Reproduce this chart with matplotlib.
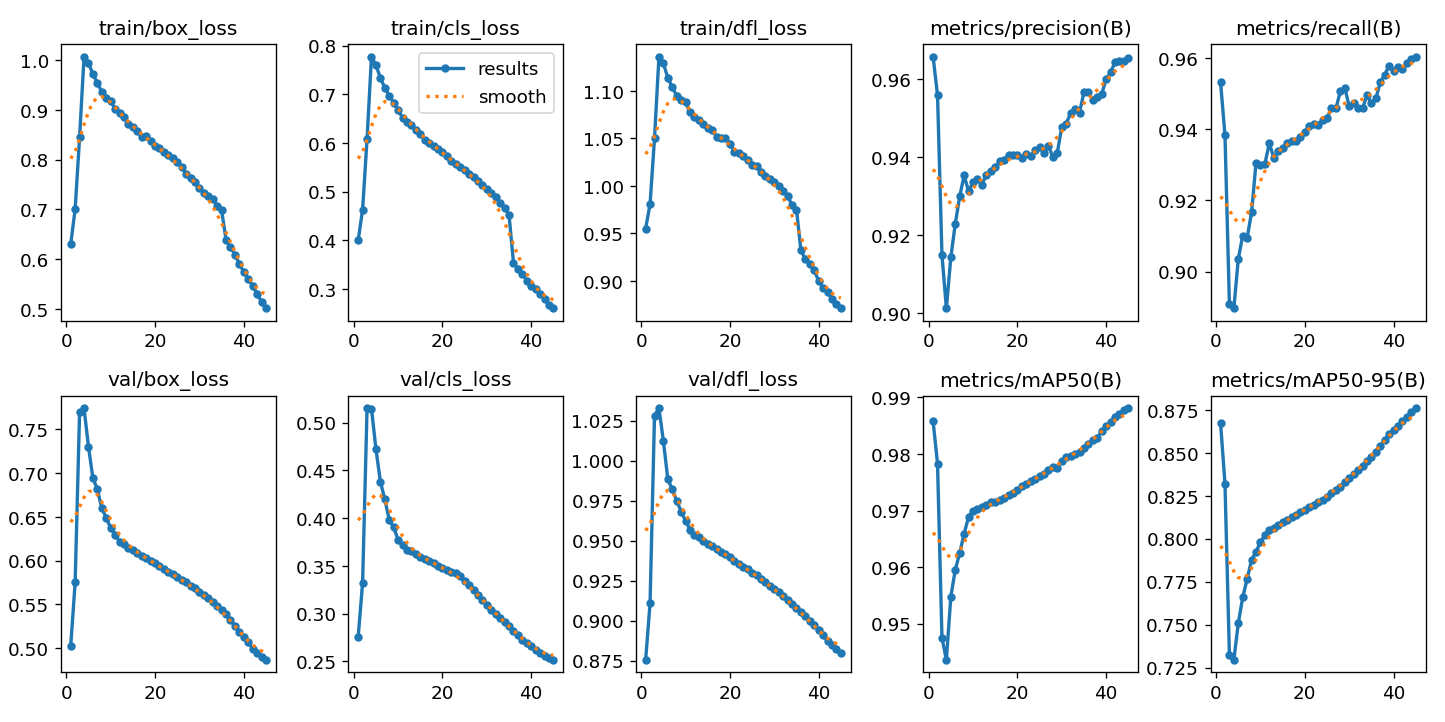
import numpy as np
import matplotlib
matplotlib.use("Agg")
import matplotlib.pyplot as plt

plt.rcParams["font.size"] = 11

epochs = list(range(1, 46))

titles = ["train/box_loss", "train/cls_loss", "train/dfl_loss", "metrics/precision(B)", "metrics/recall(B)",
          "val/box_loss", "val/cls_loss", "val/dfl_loss", "metrics/mAP50(B)", "metrics/mAP50-95(B)"]

train_box = [0.630, 0.701, 0.845, 1.007, 0.994, 0.973, 0.954, 0.937, 0.925, 0.918,
             0.902, 0.893, 0.885, 0.871, 0.865, 0.858, 0.846, 0.848, 0.838, 0.828,
             0.823, 0.816, 0.809, 0.803, 0.796, 0.786, 0.772, 0.764, 0.756, 0.744,
             0.734, 0.728, 0.721, 0.707, 0.699, 0.639, 0.625, 0.609, 0.591, 0.574,
             0.561, 0.546, 0.531, 0.514, 0.501]
train_cls = [0.400, 0.463, 0.608, 0.777, 0.760, 0.734, 0.713, 0.697, 0.683, 0.667,
             0.652, 0.642, 0.636, 0.626, 0.619, 0.607, 0.600, 0.594, 0.588, 0.581,
             0.574, 0.563, 0.557, 0.551, 0.544, 0.537, 0.529, 0.522, 0.514, 0.506,
             0.497, 0.488, 0.477, 0.466, 0.452, 0.354, 0.341, 0.331, 0.317, 0.307,
             0.299, 0.290, 0.279, 0.267, 0.260]
train_dfl = [0.955, 0.981, 1.050, 1.136, 1.129, 1.114, 1.104, 1.095, 1.090, 1.088,
             1.078, 1.073, 1.069, 1.065, 1.061, 1.059, 1.052, 1.051, 1.051, 1.044,
             1.036, 1.035, 1.032, 1.027, 1.022, 1.021, 1.015, 1.010, 1.007, 1.004,
             1.000, 0.995, 0.989, 0.980, 0.975, 0.932, 0.923, 0.918, 0.911, 0.900,
             0.893, 0.888, 0.881, 0.876, 0.871]
precision = [0.9657, 0.9559, 0.9149, 0.9012, 0.9143, 0.9229, 0.9299, 0.9353, 0.9312, 0.9336,
             0.9343, 0.9329, 0.9355, 0.9363, 0.9375, 0.9389, 0.9392, 0.9406, 0.9405, 0.9405,
             0.9398, 0.9409, 0.9402, 0.9417, 0.9426, 0.9411, 0.9429, 0.9400, 0.9411, 0.9477,
             0.9486, 0.9512, 0.9523, 0.9514, 0.9566, 0.9566, 0.9546, 0.9555, 0.9561, 0.9600,
             0.9617, 0.9643, 0.9646, 0.9646, 0.9653]
recall = [0.9532, 0.9383, 0.8909, 0.8897, 0.9036, 0.9101, 0.9095, 0.9167, 0.9306, 0.9300,
          0.9303, 0.9361, 0.9319, 0.9340, 0.9347, 0.9362, 0.9366, 0.9366, 0.9378, 0.9392,
          0.9409, 0.9415, 0.9412, 0.9425, 0.9431, 0.9458, 0.9458, 0.9506, 0.9516, 0.9464,
          0.9472, 0.9458, 0.9458, 0.9495, 0.9472, 0.9486, 0.9531, 0.9553, 0.9578, 0.9563,
          0.9575, 0.9568, 0.9586, 0.9596, 0.9603]
val_box = [0.5027, 0.5750, 0.7702, 0.7740, 0.7302, 0.6941, 0.6815, 0.6598, 0.6492, 0.6370,
           0.6294, 0.6218, 0.6187, 0.6149, 0.6119, 0.6088, 0.6058, 0.6027, 0.5997, 0.5967,
           0.5936, 0.5906, 0.5875, 0.5845, 0.5811, 0.5780, 0.5750, 0.5715, 0.5685, 0.5647,
           0.5609, 0.5571, 0.5533, 0.5487, 0.5438, 0.5388, 0.5323, 0.5259, 0.5190, 0.5133,
           0.5068, 0.4992, 0.4943, 0.4905, 0.4867]
val_cls = [0.2755, 0.3326, 0.5150, 0.5143, 0.4725, 0.4383, 0.4198, 0.3982, 0.3902, 0.3773,
           0.3720, 0.3668, 0.3651, 0.3626, 0.3598, 0.3574, 0.3546, 0.3529, 0.3504, 0.3476,
           0.3459, 0.3441, 0.3424, 0.3389, 0.3344, 0.3302, 0.3250, 0.3197, 0.3145, 0.3093,
           0.3040, 0.2995, 0.2953, 0.2918, 0.2866, 0.2821, 0.2772, 0.2727, 0.2692, 0.2657,
           0.2622, 0.2587, 0.2559, 0.2535, 0.2517]
val_dfl = [0.8756, 0.9110, 1.0281, 1.0327, 1.0123, 0.9884, 0.9821, 0.9749, 0.9682, 0.9624,
           0.9568, 0.9536, 0.9520, 0.9499, 0.9482, 0.9466, 0.9449, 0.9432, 0.9416, 0.9395,
           0.9374, 0.9355, 0.9337, 0.9320, 0.9301, 0.9283, 0.9262, 0.9241, 0.9220, 0.9199,
           0.9177, 0.9154, 0.9129, 0.9104, 0.9079, 0.9054, 0.9027, 0.9000, 0.8971, 0.8942,
           0.8908, 0.8875, 0.8846, 0.8821, 0.8798]
map50 = [0.9858, 0.9783, 0.9475, 0.9436, 0.9548, 0.9595, 0.9625, 0.9659, 0.9689, 0.9700,
         0.9703, 0.9706, 0.9709, 0.9715, 0.9715, 0.9718, 0.9722, 0.9727, 0.9731, 0.9737,
         0.9743, 0.9747, 0.9752, 0.9755, 0.9761, 0.9765, 0.9771, 0.9777, 0.9776, 0.9788,
         0.9794, 0.9797, 0.9800, 0.9804, 0.9810, 0.9818, 0.9824, 0.9828, 0.9841, 0.9849,
         0.9856, 0.9865, 0.9871, 0.9877, 0.9881]
map50_95 = [0.8676, 0.8319, 0.7324, 0.7295, 0.7508, 0.7659, 0.7766, 0.7877, 0.7925, 0.7980,
            0.8022, 0.8051, 0.8065, 0.8080, 0.8096, 0.8110, 0.8125, 0.8139, 0.8154, 0.8168,
            0.8183, 0.8197, 0.8212, 0.8226, 0.8245, 0.8265, 0.8284, 0.8304, 0.8329, 0.8352,
            0.8375, 0.8401, 0.8426, 0.8453, 0.8478, 0.8507, 0.8542, 0.8575, 0.8608, 0.8634,
            0.8659, 0.8686, 0.8711, 0.8736, 0.8760]

series = [train_box, train_cls, train_dfl, precision, recall,
          val_box, val_cls, val_dfl, map50, map50_95]


def gauss_smooth(y, sigma=3.0):
    # same as scipy gaussian_filter1d (mode='reflect', truncate=4)
    r = int(4.0 * sigma + 0.5)
    k = np.exp(-0.5 * (np.arange(-r, r + 1) / sigma) ** 2)
    k /= k.sum()
    yp = np.pad(np.asarray(y, float), r, mode="symmetric")
    return np.convolve(yp, k, mode="valid")


fig, ax = plt.subplots(2, 5, figsize=(12, 6), tight_layout=True)
ax = ax.ravel()
for i, y in enumerate(series):
    ax[i].plot(epochs, y, marker=".", label="results", linewidth=2, markersize=8)
    ax[i].plot(epochs, gauss_smooth(y), ":", label="smooth", linewidth=2)
    ax[i].set_title(titles[i], fontsize=12)
ax[1].legend()

fig.savefig("out.png", dpi=120.45)
plt.close()
